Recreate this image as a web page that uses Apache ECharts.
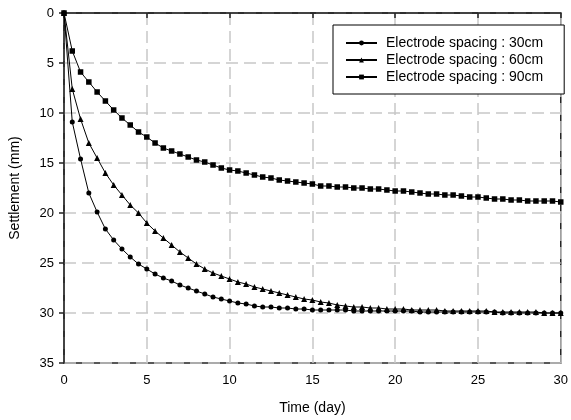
<!DOCTYPE html>
<html>
<head>
<meta charset="utf-8">
<script src="https://cdn.jsdelivr.net/npm/echarts@6/dist/echarts.min.js"></script>
<style>
  html, body { margin: 0; padding: 0; background: #fff; }
  #chart { width: 571px; height: 420px; }
</style>
</head>
<body>
<div id="chart"></div>
<script>
// time, every half day
var days = [];
for (var i = 0; i <= 60; i++) days.push(i / 2);

// settlement (mm)
var s30 = [0, 10.9, 14.6, 18.0, 19.9, 21.6, 22.7, 23.6, 24.4, 25.1, 25.6, 26.1, 26.5, 26.8, 27.2, 27.5,
    27.8, 28.1, 28.4, 28.6, 28.8, 29.0, 29.1, 29.3, 29.4, 29.4, 29.5, 29.5, 29.6, 29.6, 29.7,
    29.7, 29.7, 29.7, 29.7, 29.8, 29.8, 29.8, 29.8, 29.8, 29.8, 29.8, 29.8, 29.9, 29.9, 29.9,
    29.9, 29.9, 29.9, 29.9, 29.9, 29.9, 29.9, 30.0, 30.0, 30.0, 30.0, 30.0, 30.0, 30.0, 30.0];
var s60 = [0, 7.6, 10.6, 13.0, 14.5, 16.0, 17.2, 18.2, 19.2, 20.0, 21.0, 21.8, 22.5, 23.2, 23.9, 24.5,
    25.1, 25.6, 26.0, 26.3, 26.6, 26.9, 27.1, 27.4, 27.6, 27.8, 28.0, 28.2, 28.4, 28.6, 28.7,
    28.9, 29.0, 29.2, 29.3, 29.4, 29.4, 29.5, 29.5, 29.6, 29.6, 29.6, 29.7, 29.7, 29.7, 29.7,
    29.8, 29.8, 29.8, 29.8, 29.8, 29.8, 29.9, 29.9, 29.9, 29.9, 29.9, 29.9, 30.0, 30.0, 30.0];
var s90 = [0, 3.8, 5.9, 6.9, 7.9, 8.8, 9.7, 10.5, 11.2, 11.9, 12.4, 13.0, 13.5, 13.8, 14.1, 14.4,
    14.7, 14.9, 15.2, 15.5, 15.7, 15.8, 16.0, 16.2, 16.4, 16.5, 16.7, 16.8, 16.9, 17.0, 17.1,
    17.3, 17.3, 17.4, 17.4, 17.5, 17.5, 17.6, 17.6, 17.7, 17.8, 17.8, 17.9, 18.0, 18.1, 18.1,
    18.2, 18.2, 18.3, 18.4, 18.4, 18.5, 18.6, 18.6, 18.7, 18.7, 18.8, 18.8, 18.8, 18.8, 18.9];

var names = ['Electrode spacing : 30cm', 'Electrode spacing : 60cm', 'Electrode spacing : 90cm'];

function pairs(ys) {
    return days.map(function (d, k) { return [d, ys[k]]; });
}

var font = 'Liberation Sans, Arial, sans-serif';
var dash = { color: '#c8c8c8', width: 1.5, type: [12, 6] };
var axisLn = { color: '#222', width: 1.5 };

var chart = echarts.init(document.getElementById('chart'));
var option = {
    animation: false,
    textStyle: { fontFamily: font },
    grid: {
        left: 62, right: 7, top: 13, bottom: 57,
        show: true, borderColor: '#222', borderWidth: 1.5
    },
    legend: {
        orient: 'vertical',
        left: 333, top: 25,
        padding: [11, 21, 10, 12],
        itemGap: 3,
        itemWidth: 31,
        itemHeight: 6,
        backgroundColor: '#fff',
        borderColor: '#000',
        borderWidth: 1,
        textStyle: { fontSize: 14, color: '#000', fontFamily: font, padding: [0, 0, 0, 4] },
        data: names
    },
    xAxis: {
        type: 'value',
        min: 0, max: 30, interval: 5,
        name: 'Time (day)',
        nameLocation: 'middle',
        nameGap: 38,
        nameTextStyle: { fontSize: 14, color: '#000' },
        axisLine: { lineStyle: axisLn },
        axisTick: { show: true, length: 5, lineStyle: axisLn },
        axisLabel: { fontSize: 13, color: '#000', margin: 11 },
        splitLine: { show: true, lineStyle: dash }
    },
    yAxis: {
        type: 'value',
        inverse: true,
        min: 0, max: 35, interval: 5,
        name: 'Settlement (mm)',
        nameLocation: 'middle',
        nameGap: 42,
        nameRotate: 90,
        nameTextStyle: { fontSize: 14, color: '#000' },
        axisLine: { show: true, lineStyle: axisLn },
        axisTick: { show: true, length: 5, lineStyle: axisLn },
        axisLabel: { fontSize: 13, color: '#000', margin: 10 },
        splitLine: { show: true, lineStyle: dash }
    },
    series: [
        {
            name: names[0], type: 'line', data: pairs(s30),
            symbol: 'circle', symbolSize: 5, showAllSymbol: true,
            itemStyle: { color: '#000' }, lineStyle: { color: '#000', width: 1 }
        },
        {
            name: names[1], type: 'line', data: pairs(s60),
            symbol: 'triangle', symbolSize: 6, showAllSymbol: true,
            itemStyle: { color: '#000' }, lineStyle: { color: '#000', width: 1 }
        },
        {
            name: names[2], type: 'line', data: pairs(s90),
            symbol: 'rect', symbolSize: 5.5, showAllSymbol: true,
            itemStyle: { color: '#000' }, lineStyle: { color: '#000', width: 1 }
        }
    ]
};
chart.setOption(option);
</script>
</body>
</html>
